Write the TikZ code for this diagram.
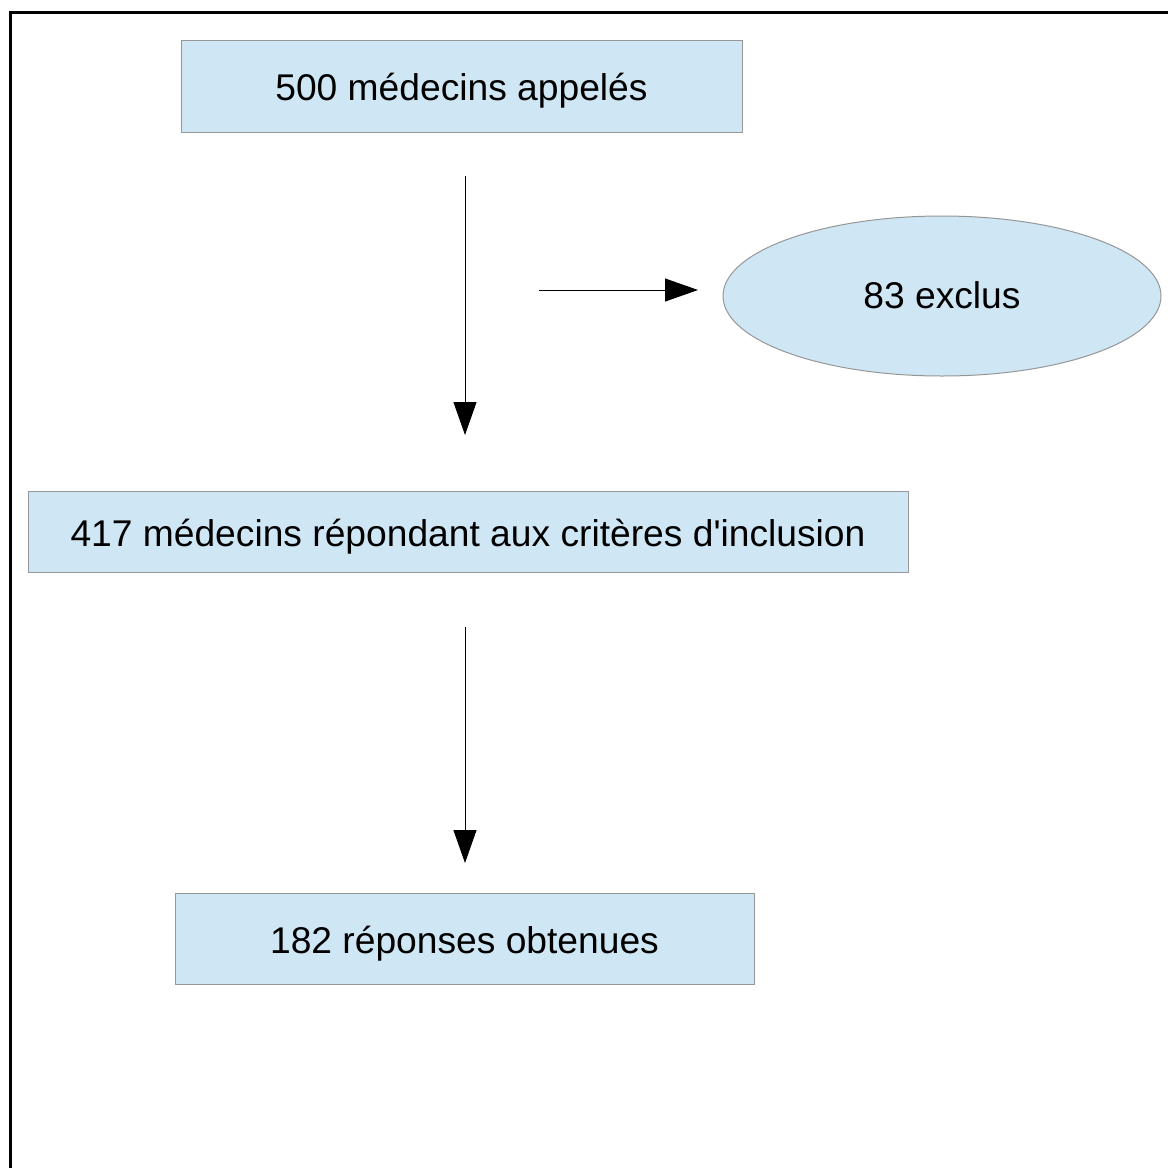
\documentclass[tikz,border=0pt]{standalone}
\usepackage{fontspec}
\setmainfont{Liberation Sans}
\usetikzlibrary{shapes.geometric,arrows.meta}
\definecolor{boxblue}{RGB}{207,231,245}
\definecolor{boxline}{RGB}{150,150,150}

\begin{document}
\begin{tikzpicture}
[
  x=0.5pt,
  y=-0.5pt,
  box/.style={draw=boxline,fill=boxblue,line width=0.5pt,inner sep=0pt,
    text height=14.5pt,text depth=0pt,font=\fontsize{18.6}{22}\selectfont},
  oval/.style={ellipse,draw=boxline,fill=boxblue,line width=0.5pt,inner sep=0pt,
    text height=12.5pt,text depth=0pt,font=\fontsize{18.6}{22}\selectfont},
  flow/.style={line width=0.5pt,-{Triangle[length=16.5pt,width=11.5pt]}}
]
\useasboundingbox (0,0) rectangle (1168,1168);

% Frame
\draw[line width=1.5pt] (10,1168) -- (10,12) -- (1168,12);

% Boxes
\node[box,minimum width=280.5pt,minimum height=46pt] (called) at (461.5,86) {500 médecins appelés};
\node[oval,minimum width=219pt,minimum height=80pt] (excluded) at (942,296) {83 exclus};
\node[box,minimum width=440pt,minimum height=40.5pt] (included) at (468,531.5) {417 médecins répondant aux critères d\textquotesingle inclusion};
\node[box,minimum width=289.5pt,minimum height=45.5pt] (answers) at (464.5,938.5) {182 réponses obtenues};

% Arrow ends
\coordinate (a1s) at (465,176);
\coordinate (a1e) at (465,435);
\coordinate (a2s) at (539,290);
\coordinate (a2e) at (698,290);
\coordinate (a3s) at (465,627);
\coordinate (a3e) at (465,863);

% Arrows
\draw[flow] (a1s) -- (a1e);
\draw[flow] (a2s) -- (a2e);
\draw[flow] (a3s) -- (a3e);

\end{tikzpicture}
\end{document}
